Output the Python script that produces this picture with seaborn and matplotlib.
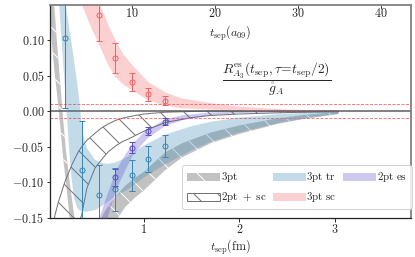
import numpy as np
import matplotlib
matplotlib.use('Agg')
import matplotlib.pyplot as plt
import seaborn as sns
from matplotlib.ticker import FuncFormatter

# ── data ────────────────────────────────────────────────
A09 = 0.0871  # lattice spacing of a09 in fm

# data points (t_sep in lattice units)
tr_n = [2, 4, 6, 8, 10, 12, 14]
tr_y = [0.103, -0.083, -0.118, -0.110, -0.090, -0.0675, -0.049]
tr_err = [0.099, 0.069, 0.042, 0.030, 0.022, 0.018, 0.015]

es_n = [8, 10, 12, 14]
es_y = [-0.0927, -0.0512, -0.0279, -0.0148]
es_err = [0.012, 0.008, 0.006, 0.005]

sc_n = [6, 8, 10, 12, 14]
sc_y = [0.1355, 0.0744, 0.0412, 0.0235, 0.0145]
sc_err = [0.037, 0.0206, 0.013, 0.0092, 0.0065]

# bands (t_sep in fm)
b3_t = [0.00, 0.03, 0.06, 0.09, 0.12, 0.15, 0.18, 0.22, 0.27, 0.35, 0.45, 0.55,
        0.60, 0.70, 0.80, 0.90, 1.00, 1.22, 1.40, 1.70, 2.00, 2.40, 2.70, 3.04]
b3_lo = [0.160, 0.100, 0.055, 0.020, -0.020, -0.065, -0.100, -0.150, -0.200, -0.250, -0.240, -0.200,
         -0.185, -0.155, -0.135, -0.122, -0.111, -0.083, -0.065, -0.045, -0.032, -0.018, -0.010, -0.004]
b3_hi = [0.260, 0.200, 0.145, 0.090, 0.040, -0.010, -0.055, -0.100, -0.150, -0.185, -0.180, -0.150,
         -0.138, -0.120, -0.105, -0.094, -0.085, -0.058, -0.045, -0.030, -0.020, -0.010, -0.005, -0.001]

sc2_t = [0.04, 0.065, 0.10, 0.17, 0.24, 0.31, 0.345, 0.40, 0.485, 0.56, 0.625, 0.70,
         0.77, 0.853, 1.00, 1.22, 1.50, 1.70, 2.00, 2.50, 3.04]
sc2_lo = [-0.38, -0.34, -0.29, -0.22, -0.18, -0.158, -0.146, -0.108, -0.080, -0.067, -0.057, -0.049,
          -0.043, -0.038, -0.028, -0.016, -0.009, -0.006, -0.004, -0.002, -0.001]
sc2_hi = [-0.165, -0.146, -0.128, -0.099, -0.076, -0.057, -0.050, -0.041, -0.031, -0.023, -0.018, -0.013,
          -0.010, -0.0075, -0.004, -0.0015, -0.0005, 0.0, 0.0, 0.0, 0.0]

tr_t = [0.10, 0.11, 0.15, 0.18, 0.20, 0.215, 0.24, 0.268, 0.30, 0.32, 0.338, 0.36, 0.40, 0.485,
        0.56, 0.62, 0.70, 0.80, 0.87, 1.00, 1.22, 1.50, 1.70, 2.00, 2.43, 3.04]
tr_lo = [0.17, 0.148, 0.07, 0.012, -0.025, -0.055, -0.095, -0.124, -0.136, -0.139, -0.140, -0.141, -0.141, -0.139,
         -0.133, -0.127, -0.120, -0.112, -0.106, -0.093, -0.075, -0.055, -0.043, -0.030, -0.016, -0.004]
tr_hi = [0.40, 0.37, 0.25, 0.148, 0.130, 0.115, 0.095, 0.068, 0.038, 0.0155, -0.010, -0.033, -0.052, -0.068,
         -0.073, -0.074, -0.072, -0.066, -0.060, -0.048, -0.033, -0.021, -0.015, -0.009, -0.004, 0.000]

es_t = [0.50, 0.55, 0.60, 0.70, 0.80, 0.87, 1.00, 1.045, 1.22, 1.40, 1.70, 2.00, 2.50, 3.04]
es_lo = [-0.200, -0.180, -0.155, -0.110, -0.082, -0.063, -0.042, -0.036, -0.020, -0.012, -0.005, -0.002, -0.0008, -0.0003]
es_hi = [-0.160, -0.140, -0.120, -0.083, -0.060, -0.046, -0.028, -0.024, -0.011, -0.005, -0.001, 0.0, 0.0, 0.0]

scb_t = [0.30, 0.35, 0.433, 0.52, 0.61, 0.697, 0.78, 0.877, 1.045, 1.22, 1.38, 1.69, 2.00, 2.50, 3.04]
scb_lo = [0.175, 0.148, 0.120, 0.095, 0.068, 0.048, 0.038, 0.0295, 0.0155, 0.0085, 0.005, 0.003, 0.0015, 0.0005, 0.0]
scb_hi = [0.260, 0.220, 0.190, 0.155, 0.125, 0.0995, 0.080, 0.0645, 0.041, 0.027, 0.019, 0.012, 0.007, 0.003, 0.001]

BLUE = '#3a87b5'
PURPLE = '#5b4fc8'
RED = '#f26464'

# ── style ──────────────────────────────────────────────
sns.set_theme(style='ticks')
plt.rcParams['mathtext.fontset'] = 'cm'
plt.rcParams['font.family'] = ['DejaVu Serif']
plt.rcParams['hatch.linewidth'] = 1.0

fig, ax = plt.subplots(figsize=(415 / 72, 257 / 72), dpi=72)
fig.subplots_adjust(left=0.1205, right=0.990, top=0.9805, bottom=0.1518)

# ── bands ──────────────────────────────────────────────
h3 = ax.fill_between(b3_t, b3_lo, b3_hi, facecolor='0.76', edgecolor='white',
                     hatch='\\', linewidth=0, zorder=1, label=r'$\mathrm{3pt}$')
h2 = ax.fill_between(sc2_t, sc2_lo, sc2_hi, facecolor='none', edgecolor='0.45',
                     hatch='\\', linewidth=1.0, zorder=2, label=r'$\mathrm{2pt}\ +\ \mathrm{sc}$')
htr = ax.fill_between(tr_t, tr_lo, tr_hi, color=BLUE, alpha=0.3, linewidth=0,
                      zorder=3, label=r'$\mathrm{3pt\ tr}$')
hes = ax.fill_between(es_t, es_lo, es_hi, color=PURPLE, alpha=0.3, linewidth=0,
                      zorder=3, label=r'$\mathrm{2pt\ es}$')
hsc = ax.fill_between(scb_t, scb_lo, scb_hi, color=RED, alpha=0.3, linewidth=0,
                      zorder=3, label=r'$\mathrm{3pt\ sc}$')

# ── reference lines ────────────────────────────────────
ax.axhline(0.0, color='0.35', lw=1.5, zorder=2.5)
for yv in (0.01, -0.01):
    ax.axhline(yv, color='#ff7b7b', lw=1.0, ls=(0, (3, 1.5)), zorder=2.5)

# ── data points ────────────────────────────────────────
for n, y, e, c in [(tr_n, tr_y, tr_err, BLUE), (es_n, es_y, es_err, PURPLE), (sc_n, sc_y, sc_err, RED)]:
    t = np.array(n) * A09
    ax.errorbar(t, y, yerr=e, fmt='o', mfc='none', mec=c, ecolor=c, ms=5, mew=1.0,
                elinewidth=1.0, capsize=3, capthick=1.0, zorder=5)

# ── axes ───────────────────────────────────────────────
ax.set_xlim(0.013, 3.80)
ax.set_ylim(-0.15, 0.149)
ax.set_xticks([1, 2, 3])
ax.set_yticks([-0.15, -0.10, -0.05, 0.0, 0.05, 0.10])
ax.xaxis.set_major_formatter(FuncFormatter(lambda v, p: f'${v:.0f}$'))
ax.yaxis.set_major_formatter(FuncFormatter(lambda v, p: f'${v:.2f}$'))
ax.tick_params(axis='both', direction='out', length=3.5, width=1.0, labelsize=12, pad=2, color='0.2')
ax.set_xlabel(r'$t_{\rm sep}(\mathrm{fm})$', fontsize=12, labelpad=1)

for s in ('left', 'bottom'):
    ax.spines[s].set_color('0.15')
    ax.spines[s].set_linewidth(1.3)
for s in ('top', 'right'):
    ax.spines[s].set_visible(True)
    ax.spines[s].set_color('0.5')
    ax.spines[s].set_linewidth(1.8)

top = ax.secondary_xaxis('top', functions=(lambda t: t / A09, lambda n: n * A09))
top.set_xticks([10, 20, 30, 40])
top.xaxis.set_major_formatter(FuncFormatter(lambda v, p: f'${v:.0f}$'))
top.tick_params(direction='in', length=3.5, width=1.0, labelsize=12, pad=-15, color='0.3')
top.spines['top'].set_visible(False)
ax.text(0.5, 0.869, r'$t_{\rm sep}(a_{09})$', transform=ax.transAxes, ha='center', va='center', fontsize=12)

ax.text(2.39, 0.045, r'$\dfrac{R^{\rm es}_{A_3}(t_{\rm sep},\tau\!=\!t_{\rm sep}/2)}{\mathring{g}_A}$',
        ha='center', va='center', fontsize=13.5)

leg = ax.legend(handles=[h3, h2, htr, hsc, hes], ncol=3, loc='lower right',
                bbox_to_anchor=(1.005, 0.035), borderaxespad=0.1, fontsize=11,
                handlelength=3.0, handleheight=0.75, handletextpad=0.05, columnspacing=0.6,
                labelspacing=0.55, borderpad=0.45, frameon=True, framealpha=0.85, edgecolor='0.8',
                fancybox=True)

fig.savefig('out.png', dpi=72)
